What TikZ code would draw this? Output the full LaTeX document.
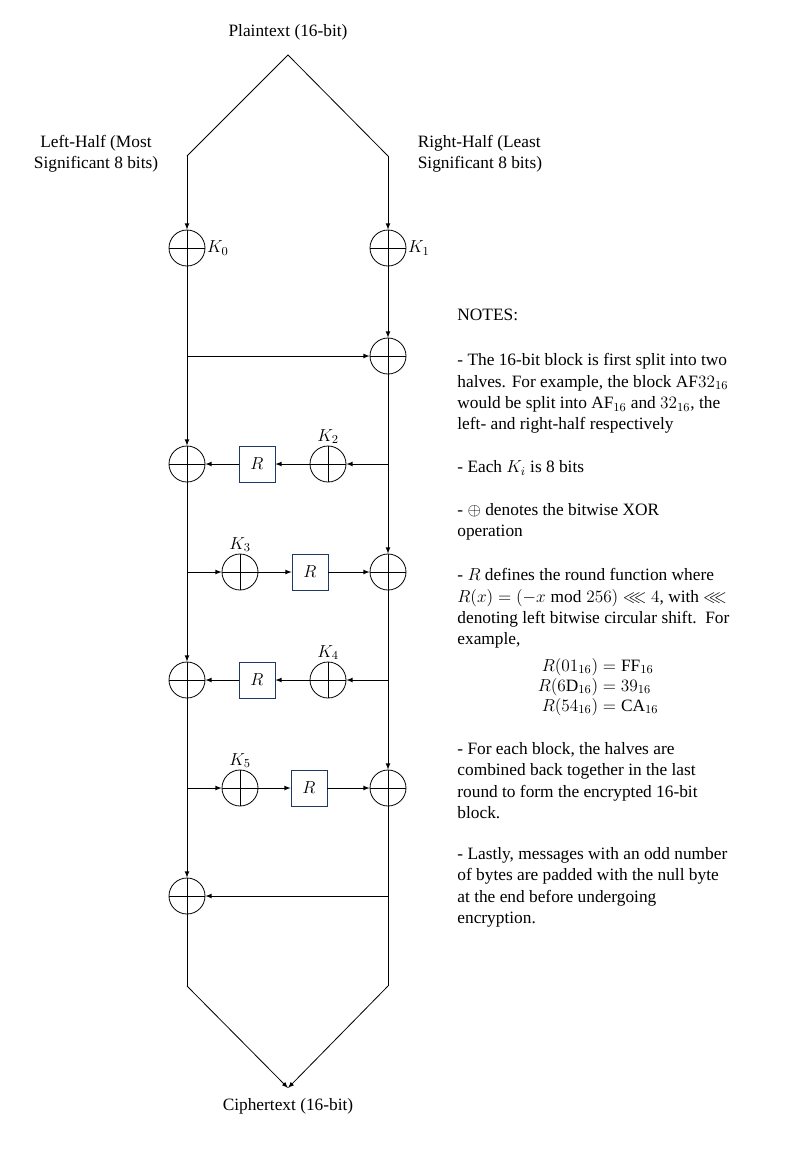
\RequirePackage{fix-cm}
\documentclass[tikz,border=0pt]{standalone}
\usepackage{amsmath, amssymb}
\usepackage{fontspec}
\setmainfont{Liberation Serif}
\usepackage{tikz}
\usetikzlibrary{arrows,positioning}
\definecolor{rBlue}{HTML}{1F3864}
\tikzset{xr/.style={circle, draw, inner sep=0pt, minimum size=27pt,
  path picture={\draw (path picture bounding box.north) -- (path picture bounding box.south)
    (path picture bounding box.west) -- (path picture bounding box.east);}}}
\tikzset{rbox/.style={draw=rBlue, inner sep=0pt, minimum size=27pt}}
\tikzset{w/.style={draw, -latex}}
\tikzset{ww/.style={draw}}
\tikzset{note/.style={anchor=west, align=left, inner sep=0pt}}

\begin{document}
\begin{tikzpicture}[x=0.75pt,y=-0.75pt,semithick]
        \tikzstyle{every node}=[font=\fontsize{13}{16}\selectfont]
        \useasboundingbox (0,0) rectangle (789,1154);
        %% input and output
        \node (plain) at (288,32) {Plaintext (16-bit)};
        \node (lhalf) at (96,154) [align=center] {Left-Half (Most\\Significant 8 bits)};
        \node (rhalf) at (413,154) [anchor=west, align=left] {Right-Half (Least\\Significant 8 bits)};
        \node (cipher) at (288,1106) {Ciphertext (16-bit)};
        \coordinate (top) at (288,55);
        \coordinate (lt) at (187,156);
        \coordinate (rt) at (388,156);
        \coordinate (lb) at (187,986);
        \coordinate (rb) at (388,986);
        \coordinate (bot) at (288,1088);
        %% xor gates and round boxes
        \node (xa0) at (187,248) [xr, label={[inner sep=1pt]right:$K_0$}] {};
        \node (xb0) at (388,248) [xr, label={[inner sep=1pt]right:$K_1$}] {};
        \node (xb1) at (388,356) [xr] {};
        \node (xa1) at (187,464) [xr] {};
        \node (r1) at (257,464) [rbox] {$R$};
        \node (k2) at (328,464) [xr, label={[inner sep=1pt]above:$K_2$}] {};
        \node (k3) at (240,572) [xr, label={[inner sep=1pt]above:$K_3$}] {};
        \node (r2) at (310,572) [rbox] {$R$};
        \node (xb2) at (388,572) [xr] {};
        \node (xa2) at (187,680) [xr] {};
        \node (r3) at (257,680) [rbox] {$R$};
        \node (k4) at (328,680) [xr, label={[inner sep=1pt]above:$K_4$}] {};
        \node (k5) at (240,788) [xr, label={[inner sep=1pt]above:$K_5$}] {};
        \node (r4) at (309,788) [rbox] {$R$};
        \node (xb3) at (388,788) [xr] {};
        \node (xa3) at (187,896) [xr] {};
        %% split and join
        \draw [ww] (lt) -- (top) -- (rt);
        \draw [w] (lb) -- (bot);
        \draw [w] (rb) -- (bot);
        %% the two halves
        \foreach \a/\b in {lt/xa0, xa0/xa1, xa1/xa2, xa2/xa3, rt/xb0, xb0/xb1, xb1/xb2, xb2/xb3}
            \draw [w] (\a) -- (\b);
        \draw [ww] (xa3) -- (lb);
        \draw [ww] (xb3) -- (rb);
        %% rounds
        \draw [w] (xa0 |- xb1) -- (xb1);
        \draw [w] (xb0 |- k2) -- (k2);
        \draw [w] (k2) -- (r1);
        \draw [w] (r1) -- (xa1);
        \draw [w] (xa0 |- k3) -- (k3);
        \draw [w] (k3) -- (r2);
        \draw [w] (r2) -- (xb2);
        \draw [w] (xb0 |- k4) -- (k4);
        \draw [w] (k4) -- (r3);
        \draw [w] (r3) -- (xa2);
        \draw [w] (xa0 |- k5) -- (k5);
        \draw [w] (k5) -- (r4);
        \draw [w] (r4) -- (xb3);
        \draw [w] (xb0 |- xa3) -- (xa3);
        %% notes
        \node (notes) at (457,315) [note] {NOTES:};
        \node (n1) at (457,393.5) [note] {- The 16-bit block is first split into two\\
            halves. For example, the block AF$32_{16}$\\
            would be split into AF$_{16}$ and $32_{16}$, the\\
            left- and right-half respectively};
        \node (n2) at (457,468) [note] {- Each $K_i$ is 8 bits};
        \node (n3) at (457,522) [note] {- $\oplus$ denotes the bitwise XOR\\operation};
        \node (n4) at (457,608.5) [note] {- $R$ defines the round function where\\
            $R(x) = (-x \bmod 256) \lll 4$, with $\lll$\\
            denoting left bitwise circular shift.\ \ For\\
            example,};
        \node (eqs) at (598,687) {$\begin{aligned}
            R(01_{16}) &= \mathrm{FF}_{16}\\[-4pt]
            R(6\mathrm{D}_{16}) &= 39_{16}\\[-4pt]
            R(54_{16}) &= \mathrm{CA}_{16}
            \end{aligned}$};
        \node (n5) at (457,780.5) [note] {- For each block, the halves are\\
            combined back together in the last\\
            round to form the encrypted 16-bit\\
            block.};
        \node (n6) at (457,887.5) [note] {- Lastly, messages with an odd number\\
            of bytes are padded with the null byte\\
            at the end before undergoing\\
            encryption.};
    \end{tikzpicture}
\end{document}
